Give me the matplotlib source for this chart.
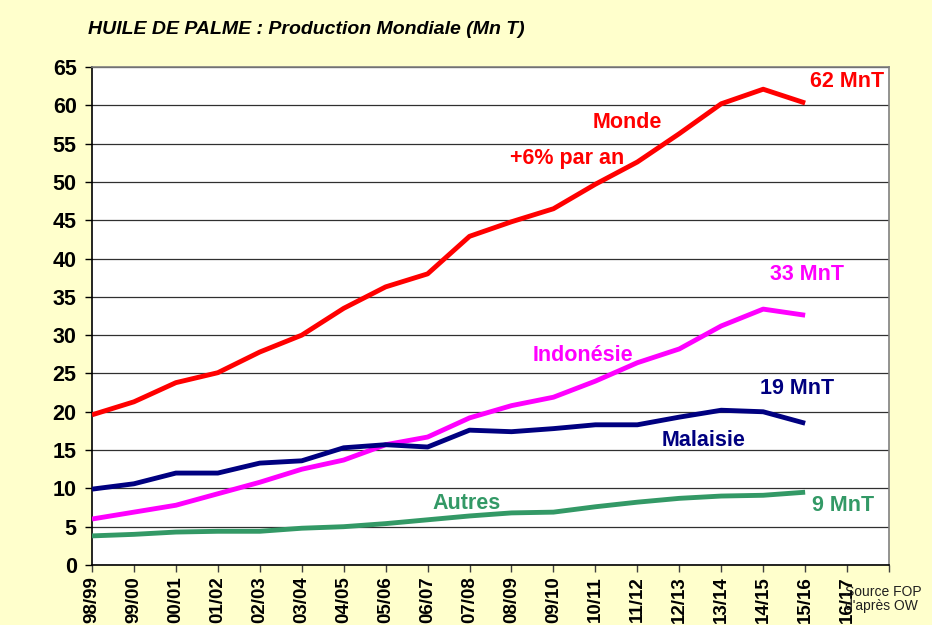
import matplotlib
matplotlib.use("Agg")
import matplotlib.pyplot as plt

categories = ["98/99", "99/00", "00/01", "01/02", "02/03", "03/04", "04/05", "05/06",
              "06/07", "07/08", "08/09", "09/10", "10/11", "11/12", "12/13", "13/14",
              "14/15", "15/16", "16/17"]
monde = [19.6, 21.3, 23.8, 25.1, 27.8, 30.0, 33.5, 36.3, 38.0, 42.9, 44.8, 46.5,
         49.7, 52.6, 56.3, 60.2, 62.1, 60.3]
indonesie = [6.0, 6.9, 7.8, 9.3, 10.8, 12.5, 13.7, 15.7, 16.7, 19.2, 20.8, 21.9,
             24.0, 26.4, 28.2, 31.2, 33.4, 32.6]
malaisie = [9.9, 10.6, 12.0, 12.0, 13.3, 13.6, 15.3, 15.7, 15.4, 17.6, 17.4, 17.8,
            18.3, 18.3, 19.3, 20.2, 20.0, 18.5]
autres = [3.8, 4.0, 4.3, 4.4, 4.4, 4.8, 5.0, 5.4, 5.9, 6.4, 6.8, 6.9,
          7.6, 8.2, 8.7, 9.0, 9.1, 9.5]

plt.rcParams['font.family'] = ['Liberation Sans', 'DejaVu Sans']

bg = "#FFFFCC"
fig = plt.figure(figsize=(9.32, 6.25), dpi=100, facecolor=bg)
ax = fig.add_axes([0.0987, 0.096, 0.9539 - 0.0987, 0.8928 - 0.096])
ax.set_facecolor("white")

xs = list(range(len(monde)))
ax.plot(xs, autres, color="#339966", lw=3.5, solid_capstyle="butt", zorder=3)
ax.plot(xs, indonesie, color="#FF00FF", lw=3.5, solid_capstyle="butt", zorder=3)
ax.plot(xs, malaisie, color="#000080", lw=3.5, solid_capstyle="butt", zorder=3)
ax.plot(xs, monde, color="#FF0000", lw=3.5, solid_capstyle="butt", zorder=3)

ax.set_xlim(0, len(categories))
ax.set_ylim(0, 65)
ax.set_yticks(range(0, 66, 5))
ax.set_xticks(range(len(categories) + 1))
ax.set_xticklabels(categories + [""], rotation=90, fontsize=13.5, fontweight="bold")
ax.tick_params(axis="y", labelsize=15.5, length=5, width=1, direction="out", pad=6)
for lbl in ax.get_yticklabels():
    lbl.set_fontweight("bold")
ax.tick_params(axis="x", length=5, width=1, direction="out", pad=3, color="#404040")
ax.grid(axis="y", color="#303030", lw=0.9, zorder=1)
ax.set_axisbelow(True)

for s in ["left", "bottom"]:
    ax.spines[s].set_color("black")
    ax.spines[s].set_linewidth(1.2)
for s in ["top", "right"]:
    ax.spines[s].set_color("#808080")
    ax.spines[s].set_linewidth(1.2)

fig.text(88 / 932, 1 - 30 / 625, "HUILE DE PALME : Production Mondiale (Mn T)",
         fontsize=14, fontweight="bold", fontstyle="italic", va="center", ha="left")

kw = dict(fontsize=15.5, fontweight="bold", ha="center", va="center")
ax.text(18.0, 63.05, "62 MnT", color="#FF0000", **kw)
ax.text(12.75, 57.8, "Monde", color="#FF0000", **kw)
ax.text(11.32, 53.1, "+6% par an", color="#FF0000", **kw)
ax.text(17.04, 37.9, "33 MnT", color="#FF00FF", **kw)
ax.text(11.70, 27.4, "Indonésie", color="#FF00FF", **kw)
ax.text(16.8, 23.0, "19 MnT", color="#000080", **kw)
ax.text(14.57, 16.2, "Malaisie", color="#000080", **kw)
ax.text(8.92, 8.0, "Autres", color="#339966", **kw)
ax.text(17.9, 7.8, "9 MnT", color="#339966", **kw)

fig.text(845 / 932, 1 - 599 / 625, "Source FOP\nd'après OW", fontsize=10,
         ha="left", va="center", color="#202020", linespacing=1.05)

fig.savefig("out.png", dpi=100, facecolor=bg)
